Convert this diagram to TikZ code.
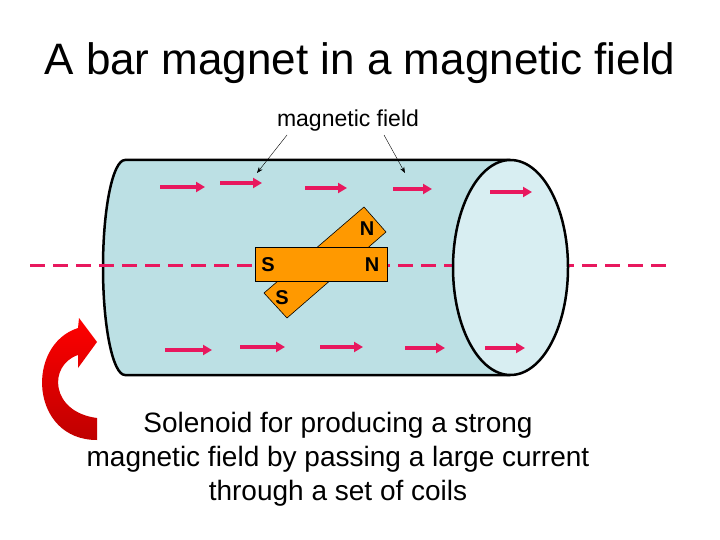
\documentclass[tikz,border=0pt]{standalone}
\usepackage{fontspec}
\setmainfont{Liberation Sans}
\begin{document}
\begin{tikzpicture}[x=1pt,y=-1pt,
  fld/.style={draw=fieldpink,line width=3.2pt,-{Triangle[length=9pt,width=10pt]}},
  lbl/.style={draw,thin,-{Stealth[length=6pt]}},
  mag/.style={draw=black,fill=magorange,line width=0.6pt},
  pole/.style={font=\bfseries\fontsize{20}{20}\selectfont}]
\usetikzlibrary{arrows.meta}
\definecolor{fieldpink}{HTML}{E8185E}
\definecolor{cylblue}{HTML}{BCE0E4}
\definecolor{cylend}{HTML}{D8EEF2}
\definecolor{magorange}{HTML}{FF9900}
\useasboundingbox (0,0) rectangle (720,540);
\fill[white] (0,0) rectangle (720,540);
\node (title) at (360,63) {\fontsize{44}{46}\selectfont A bar magnet in a magnetic field};
% cylinder
\fill[cylblue] (510,160) -- (125,160) arc[start angle=270,end angle=90,x radius=22,y radius=107.5] -- (510,375) -- cycle;
\draw[line width=2.5pt] (510,160) -- (125,160) arc[start angle=270,end angle=90,x radius=22,y radius=107.5] -- (510,375);
% dashed axis
\draw[fieldpink,line width=3pt,dash pattern=on 15pt off 8pt] (30,265) -- (670,265);
\draw[fill=cylend,line width=2.5pt] (510.5,267.5) ellipse[x radius=57.5,y radius=107.5];
% field arrows
\foreach \a/\b/\y in {160/205/187,220/262/183,305/347/188,393/432/189,490/532/192,165/212/350,240/285/347,320/363/347,405/445/348,485/525/348}
  \draw[fld] (\a,\y) -- (\b,\y);
% magnets
\draw[mag] (364,207) -- (386,232) -- (287,318) -- (264,293) -- cycle;
\node[pole] (n2) at (367,229) {N};
\node[pole] (s2) at (282,298) {S};
\draw[mag] (255,247) rectangle (387,281);
\node[pole] (s1) at (268,265) {S};
\node[pole] (n1) at (372,265) {N};
% labels
\node (mf) at (348,121) {\fontsize{23}{23}\selectfont magnetic field};
\coordinate (m1) at (257,173);
\coordinate (m2) at (405,173);
\draw[lbl] (287,135) -- (m1);
\draw[lbl] (384,135) -- (m2);
% red curved arrow
\shade[top color=red,bottom color=red!75!black]
  (78,328) -- (79,318) -- (97,342) -- (78,368) -- (78,355)
  .. controls (48,365) and (50,412) .. (97,418) -- (97,440)
  .. controls (30,440) and (25,345) .. (78,328) -- cycle;
\node[align=center,font=\fontsize{28}{34}\selectfont] (cap) at (338,459) {Solenoid for producing a strong\\magnetic field by passing a large current\\through a set of coils};
\end{tikzpicture}
\end{document}
